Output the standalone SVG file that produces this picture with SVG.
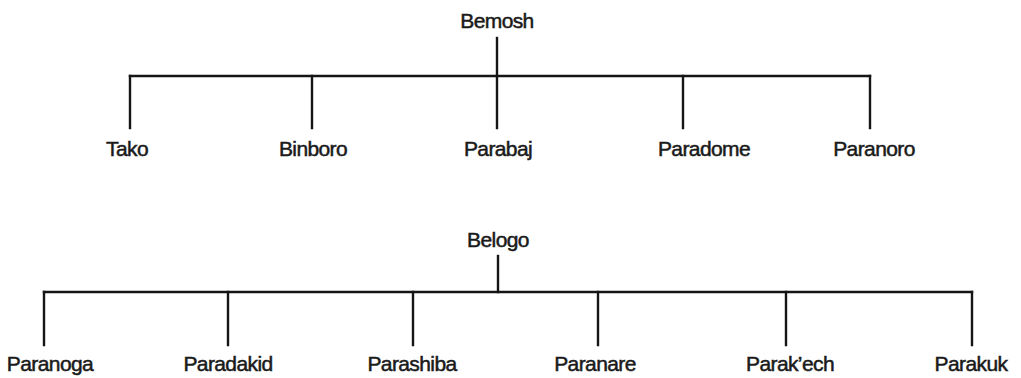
<svg xmlns="http://www.w3.org/2000/svg" width="1021" height="378" viewBox="0 0 1021 378">
<style>
.bg{fill:#ffffff}
.lbl{font-family:"Liberation Sans",Arial,Helvetica,sans-serif;font-size:21px;fill:#1a1a1a;stroke:#1a1a1a;stroke-width:0.5;text-anchor:middle;letter-spacing:-0.6px}
.ln{stroke:#151515;stroke-width:2.4;fill:none;stroke-linecap:square}
</style>
<rect class="bg" x="0" y="0" width="1021" height="378"/>
<g id="connectors">
<path class="ln" d="M497,38 V76"/>
<path class="ln" d="M130,76 H870"/>
<path class="ln" d="M130,76 V128 M312,76 V128 M497,76 V128 M683,76 V128 M870,76 V128"/>
<path class="ln" d="M498,256 V292"/>
<path class="ln" d="M44,292 H972"/>
<path class="ln" d="M44,292 V345 M228,292 V345 M413,292 V345 M598,292 V345 M786,292 V345 M972,292 V345"/>
</g>
<g id="node-bemosh"><text class="lbl" x="497" y="28">Bemosh</text></g>
<g id="node-tako"><text class="lbl" x="127" y="156">Tako</text></g>
<g id="node-binboro"><text class="lbl" x="313" y="156">Binboro</text></g>
<g id="node-parabaj"><text class="lbl" x="498" y="156">Parabaj</text></g>
<g id="node-paradome"><text class="lbl" x="704" y="156">Paradome</text></g>
<g id="node-paranoro"><text class="lbl" x="874" y="156">Paranoro</text></g>
<g id="node-belogo"><text class="lbl" x="498" y="247">Belogo</text></g>
<g id="node-paranoga"><text class="lbl" x="50" y="371">Paranoga</text></g>
<g id="node-paradakid"><text class="lbl" x="228" y="371">Paradakid</text></g>
<g id="node-parashiba"><text class="lbl" x="412" y="371">Parashiba</text></g>
<g id="node-paranare"><text class="lbl" x="595" y="371">Paranare</text></g>
<g id="node-parakech"><text class="lbl" x="790" y="371">Parak’ech</text></g>
<g id="node-parakuk"><text class="lbl" x="971" y="371">Parakuk</text></g>
</svg>
